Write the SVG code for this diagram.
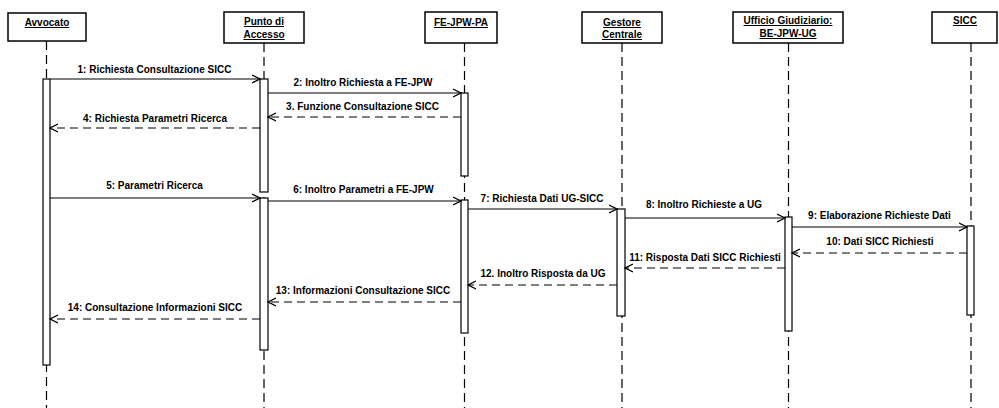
<svg xmlns="http://www.w3.org/2000/svg" width="999" height="408" viewBox="0 0 999 408">
<style>
.box{fill:#fff;stroke:#000;stroke-width:1.5}
.hd{font-family:"Liberation Sans",Arial,sans-serif;font-size:10px;font-weight:bold;text-anchor:middle;text-decoration:underline;fill:#000}
.life{stroke:#000;stroke-width:1.2;stroke-dasharray:9 5;fill:none}
.act{fill:#fff;stroke:#000;stroke-width:1.2}
.msg{stroke:#000;stroke-width:1.2;fill:none;marker-end:url(#arr)}
.ret{stroke:#000;stroke-width:1.2;fill:none;stroke-dasharray:8 5;marker-end:url(#arr)}
.lbl{font-family:"Liberation Sans",Arial,sans-serif;font-size:10px;font-weight:bold;text-anchor:middle;fill:#000}
</style>
<defs>
<marker id="arr" markerUnits="userSpaceOnUse" markerWidth="10" markerHeight="10" refX="8" refY="4" orient="auto" viewBox="0 0 10 8">
<path d="M0,0 L8,4 L0,8" fill="none" stroke="#000" stroke-width="1.3"/>
</marker>
</defs>
<rect width="999" height="408" fill="#fff"/>
<g id="avvocato">
<rect class="box" x="8" y="13" width="78" height="28"/>
<text class="hd" x="47" y="26">Avvocato</text>
<line class="life" x1="46.5" y1="41" x2="46.5" y2="408"/>
<rect class="act" x="43" y="79" width="7" height="286"/>
</g>
<g id="punto-di-accesso">
<rect class="box" x="224" y="12" width="80" height="31"/>
<text class="hd" x="264" y="25">Punto di</text>
<text class="hd" x="264" y="38">Accesso</text>
<line class="life" x1="264" y1="43" x2="264" y2="408"/>
<rect class="act" x="260" y="79" width="8" height="113"/>
<rect class="act" x="260" y="198" width="8" height="152"/>
</g>
<g id="fe-jpw-pa">
<rect class="box" x="425" y="12" width="72" height="31"/>
<text class="hd" x="461" y="26">FE-JPW-PA</text>
<line class="life" x1="464.5" y1="43" x2="464.5" y2="408"/>
<rect class="act" x="461" y="93" width="7" height="83"/>
<rect class="act" x="461" y="200" width="7" height="133"/>
</g>
<g id="gestore-centrale">
<rect class="box" x="582" y="12" width="80" height="31"/>
<text class="hd" x="622" y="26">Gestore</text>
<text class="hd" x="622" y="38">Centrale</text>
<line class="life" x1="622" y1="43" x2="622" y2="408"/>
<rect class="act" x="617" y="209" width="8" height="107"/>
</g>
<g id="ufficio-giudiziario">
<rect class="box" x="733" y="12" width="110" height="31"/>
<text class="hd" x="788" y="24">Ufficio Giudiziario:</text>
<text class="hd" x="788" y="37">BE-JPW-UG</text>
<line class="life" x1="788.5" y1="43" x2="788.5" y2="408"/>
<rect class="act" x="785" y="217" width="7" height="114"/>
</g>
<g id="sicc">
<rect class="box" x="932" y="12" width="65" height="31"/>
<text class="hd" x="965" y="24">SICC</text>
<line class="life" x1="971" y1="43" x2="971" y2="408"/>
<rect class="act" x="967" y="226" width="7" height="89"/>
</g>
<g id="connectors">
<line class="msg" x1="50" y1="79" x2="260" y2="79"/>
<text class="lbl" x="154.5" y="73">1: Richiesta Consultazione SICC</text>
<line class="msg" x1="268" y1="93" x2="461" y2="93"/>
<text class="lbl" x="363" y="86">2: Inoltro Richiesta a FE-JPW</text>
<line class="ret" x1="461" y1="117" x2="268" y2="117"/>
<text class="lbl" x="362.5" y="110">3. Funzione Consultazione SICC</text>
<line class="ret" x1="260" y1="128" x2="50" y2="128"/>
<text class="lbl" x="155" y="122">4: Richiesta Parametri Ricerca</text>
<line class="msg" x1="50" y1="198" x2="260" y2="198"/>
<text class="lbl" x="154.5" y="189">5: Parametri Ricerca</text>
<line class="msg" x1="268" y1="201" x2="461" y2="201"/>
<text class="lbl" x="363.5" y="193">6: Inoltro Parametri a FE-JPW</text>
<line class="msg" x1="468" y1="209" x2="617" y2="209"/>
<text class="lbl" x="542" y="202">7: Richiesta Dati UG-SICC</text>
<line class="msg" x1="625" y1="218" x2="785" y2="218"/>
<text class="lbl" x="704" y="208">8: Inoltro Richieste a UG</text>
<line class="msg" x1="792" y1="227" x2="967" y2="227"/>
<text class="lbl" x="879.5" y="219">9: Elaborazione Richieste Dati</text>
<line class="ret" x1="967" y1="253" x2="792" y2="253"/>
<text class="lbl" x="880" y="245">10: Dati SICC Richiesti</text>
<line class="ret" x1="785" y1="268" x2="625" y2="268"/>
<text class="lbl" x="705" y="261">11: Risposta Dati SICC Richiesti</text>
<line class="ret" x1="617" y1="285" x2="468" y2="285"/>
<text class="lbl" x="543" y="277">12. Inoltro Risposta da UG</text>
<line class="ret" x1="461" y1="302" x2="268" y2="302"/>
<text class="lbl" x="363" y="294">13: Informazioni Consultazione SICC</text>
<line class="ret" x1="260" y1="319" x2="50" y2="319"/>
<text class="lbl" x="155" y="311">14: Consultazione Informazioni SICC</text>
</g>
</svg>
